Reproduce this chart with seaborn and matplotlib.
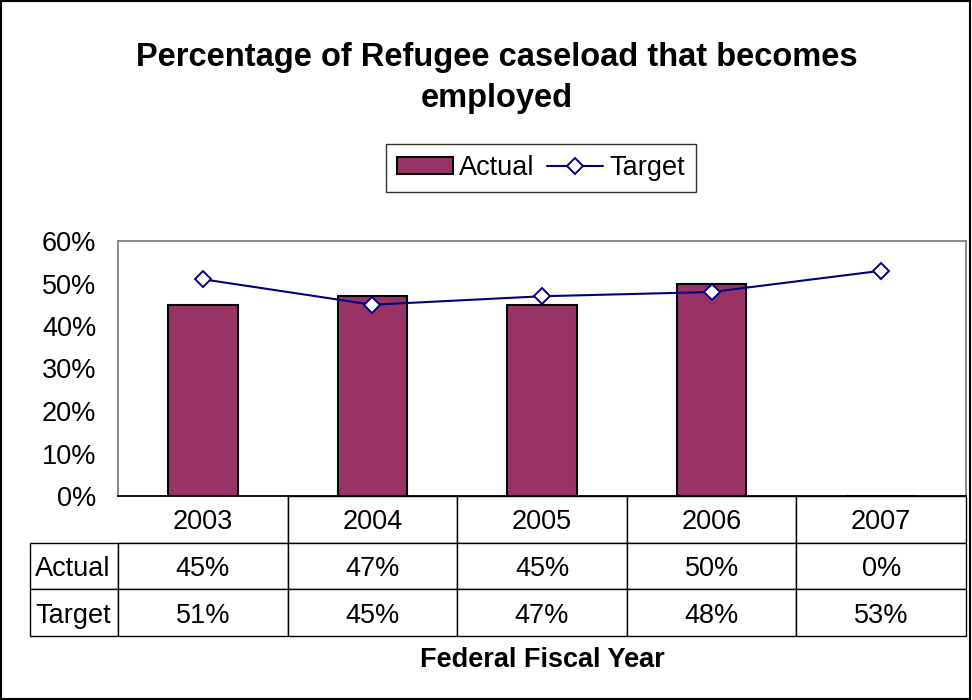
import matplotlib
matplotlib.use("Agg")
import matplotlib.pyplot as plt
from matplotlib.patches import Patch, Rectangle
from matplotlib.lines import Line2D
from matplotlib.ticker import PercentFormatter, MultipleLocator
import seaborn as sns
import pandas as pd

years = ["2003", "2004", "2005", "2006", "2007"]
actual = [45, 47, 45, 50, 0]
target = [51, 45, 47, 48, 53]
row_labels = ["Actual", "Target"]

bar_color = "#993366"
line_color = "#000080"

sns.set_style("white", rc={"text.color": "black", "axes.labelcolor": "black",
                           "xtick.color": "black", "ytick.color": "black"})
plt.rcParams["font.family"] = ["Liberation Sans", "DejaVu Sans"]

df = pd.DataFrame({"year": years, "actual": actual, "target": target})

fig = plt.figure(figsize=(9.72, 7.0), dpi=100)
ax = fig.add_axes([118 / 972, 1 - 496 / 700, 848 / 972, 255 / 700])

sns.barplot(data=df, x="year", y="actual", color=bar_color, width=0.41,
            edgecolor="black", linewidth=1.5, saturation=1, ax=ax)
sns.pointplot(data=df, x="year", y="target", color=line_color, markers="D",
              markersize=8.5, linewidth=1.5, errorbar=None,
              markerfacecolor="white", markeredgecolor=line_color,
              markeredgewidth=1.4, ax=ax)

ax.set_ylim(0, 60)
ax.set_xlim(-0.5, len(years) - 0.5)
ax.yaxis.set_major_locator(MultipleLocator(10))
ax.yaxis.set_major_formatter(PercentFormatter(decimals=0))
ax.set_xticks([])
ax.set_xlabel("")
ax.set_ylabel("")
ax.tick_params(axis="y", direction="inout", length=17, width=1,
               color="#404040", labelcolor="black", labelsize=19.5, pad=7)
for side in ["top", "right", "left"]:
    ax.spines[side].set_color("#808080")
    ax.spines[side].set_linewidth(1.3)
ax.spines["bottom"].set_color("black")
ax.spines["bottom"].set_linewidth(1.3)

# data table under the plot area
cell_text = [[""] + years,
             [row_labels[0]] + [f"{v}%" for v in actual],
             [row_labels[1]] + [f"{v}%" for v in target]]
lab_w = 88 / 848
tbl = ax.table(cellText=cell_text,
               colWidths=[lab_w] + [1 / len(years)] * len(years),
               bbox=[-lab_w, -140 / 255, 1 + lab_w, 140 / 255],
               cellLoc="center")
tbl.auto_set_font_size(False)
tbl.set_fontsize(19.5)
for (r, c), cell in tbl.get_celld().items():
    cell.set_edgecolor("black")
    cell.set_linewidth(1.0)
    cell.get_text().set_color("black")
    cell.get_text().set_verticalalignment("center_baseline")
    if c == 0:
        cell.get_text().set_horizontalalignment("left")
        cell.PAD = 0.06
    if r == 0 and c == 0:
        cell.visible_edges = ""
    if r == 0 and c == 1:
        cell.visible_edges = "BR"

fig.text(497 / 972, 1 - 78 / 700,
         "Percentage of Refugee caseload that becomes\nemployed",
         ha="center", va="center", fontsize=23.5, fontweight="bold",
         linespacing=1.45, color="black")

fig.text(542 / 972, 1 - 660 / 700, "Federal Fiscal Year",
         ha="center", va="center", fontsize=19.5, fontweight="bold",
         color="black")

handles = [Patch(facecolor=bar_color, edgecolor="black", linewidth=1.5),
           Line2D([0], [0], color=line_color, linewidth=1.5, marker="D",
                  markersize=8.5, markerfacecolor="white",
                  markeredgecolor=line_color, markeredgewidth=1.4)]
leg = fig.legend(handles, ["Actual", "Target"], ncol=2, loc="center",
                 bbox_to_anchor=(541 / 972, 1 - 168 / 700),
                 fontsize=19.5, frameon=True, fancybox=False, edgecolor="black",
                 handlelength=2.05, handleheight=0.55, handletextpad=0.25,
                 columnspacing=0.45, borderpad=0.4, borderaxespad=0)
leg.get_frame().set_linewidth(1.0)
for t in leg.get_texts():
    t.set_color("black")

fig.patches.append(Rectangle((0.001, 0.001), 0.997, 0.997, fill=False,
                             edgecolor="black", linewidth=1.5,
                             transform=fig.transFigure, figure=fig))

fig.savefig("out.png", dpi=100)
